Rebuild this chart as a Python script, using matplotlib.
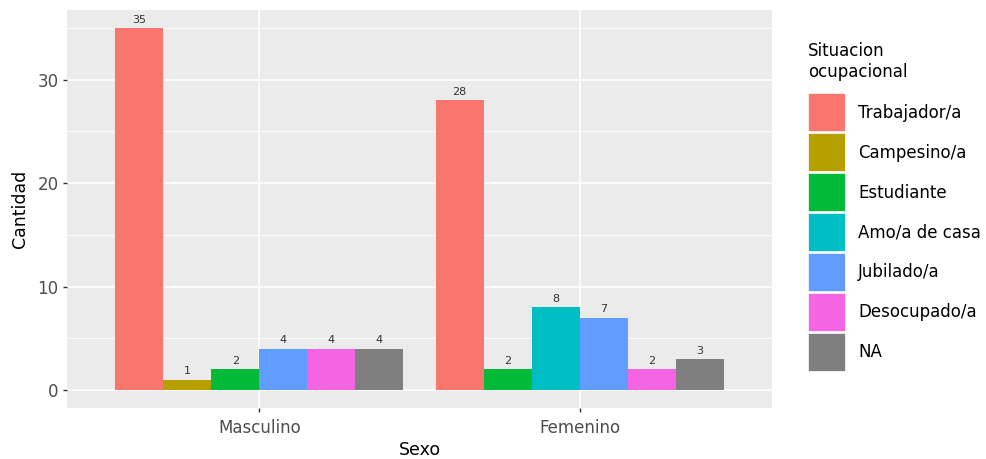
import matplotlib.pyplot as plt
from matplotlib.patches import Patch

sexos = ["Masculino", "Femenino"]
situaciones = ["Trabajador/a", "Campesino/a", "Estudiante", "Amo/a de casa",
               "Jubilado/a", "Desocupado/a", "NA"]
colores = ["#F8766D", "#B79F00", "#00BA38", "#00BFC4", "#619CFF", "#F564E3", "#7F7F7F"]

# categories present per sex, in order, with counts
masc_cat = ["Trabajador/a", "Campesino/a", "Estudiante", "Jubilado/a", "Desocupado/a", "NA"]
masc_val = [35, 1, 2, 4, 4, 4]
fem_cat = ["Trabajador/a", "Estudiante", "Amo/a de casa", "Jubilado/a", "Desocupado/a", "NA"]
fem_val = [28, 2, 8, 7, 2, 3]

fig = plt.figure(figsize=(9.87, 4.59), dpi=100)
ax = fig.add_axes([67 / 987, 51 / 459, 705 / 987, 398 / 459])
ax.set_facecolor("#EBEBEB")

width = 0.9
for i, (cats, vals) in enumerate([(masc_cat, masc_val), (fem_cat, fem_val)]):
    n = len(cats)
    bw = width / n
    for j, (c, v) in enumerate(zip(cats, vals)):
        x = (i + 1) - width / 2 + bw * (j + 0.5)
        ax.bar(x, v, width=bw, color=colores[situaciones.index(c)], zorder=3)
        ax.text(x, v + 0.3, str(v), ha="center", va="bottom", fontsize=8,
                color="#333333", zorder=4)

ax.set_xlim(0.4, 2.6)
ax.set_ylim(-1.75, 36.75)
ax.set_xticks([1, 2])
ax.set_xticklabels(sexos)
ax.set_yticks([0, 10, 20, 30])
ax.set_yticks([5, 15, 25, 35], minor=True)
ax.grid(True, which="major", color="white", linewidth=1.2, zorder=0)
ax.grid(True, which="minor", axis="y", color="white", linewidth=0.6, zorder=0)
ax.set_axisbelow(True)
for s in ax.spines.values():
    s.set_visible(False)
ax.tick_params(axis="both", which="major", length=3, width=1, color="#333333",
               labelcolor="#4D4D4D", labelsize=12, pad=3)
ax.tick_params(axis="x", which="major", pad=5)
ax.tick_params(axis="both", which="minor", length=0)
ax.set_xlabel("Sexo", fontsize=12.5, color="black", labelpad=3)
ax.set_ylabel("Cantidad", fontsize=12.5, color="black", labelpad=6)

handles = [Patch(facecolor=c, edgecolor="white", linewidth=1.2) for c in colores]
leg = fig.legend(handles, situaciones, loc="upper left",
                 bbox_to_anchor=(808 / 987, 1 - 42 / 459),
                 frameon=False, fontsize=12, title="Situacion\nocupacional",
                 title_fontsize=12, handlelength=2.3, handleheight=3.22,
                 labelspacing=0.06, handletextpad=0.7, borderaxespad=0,
                 borderpad=0)
leg._legend_box.align = "left"
leg._legend_box.sep = 9

fig.savefig("out.png", dpi=100)
